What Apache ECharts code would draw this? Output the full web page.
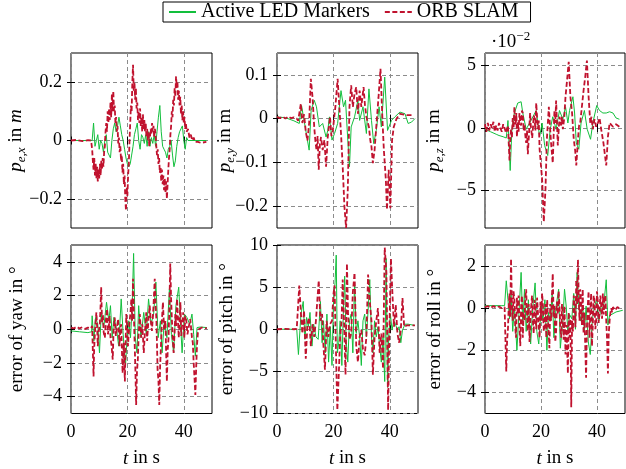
<!DOCTYPE html>
<html><head><meta charset="utf-8">
<script src="https://cdn.jsdelivr.net/npm/echarts@6/dist/echarts.min.js"></script>
<style>html,body{margin:0;padding:0;background:#fff}#c{width:626px;height:469px}</style>
</head><body><div id="c"></div>
<script>
// ---------------- data ----------------
const seriesNames = ['Active LED Markers', 'ORB SLAM'];
const timeRange = [0, 50];
const xTicks = [0, 20, 40];

// p_e,x in m
const pexLED = [[0,0],[7.5,0],[8,0.06],[8.5,-0.02],[9,0.0],[9.5,0.02],[10,-0.03],[10.5,0.0],[11,-0.01],[11.5,-0.04],[12,0.0],[12.5,0.02],[13,-0.04],[13.5,-0.05],[14,-0.06],[14.5,0.0],[15,0.04],[15.5,0.06],[16,0.03],[16.5,0.05],[17,0.08],[17.5,0.05],[18,0.02],[18.5,0.0],[19,-0.03],[19.5,-0.06],[20,-0.08],[20.5,-0.09],[21,-0.08],[21.5,-0.05],[22,-0.02],[22.5,0.02],[23,0.04],[23.5,0.06],[24,0.0],[24.5,-0.03],[25,0.02],[25.5,0.01],[26,-0.01],[26.5,0.02],[27,-0.02],[27.5,0.03],[28,-0.02],[28.5,0.01],[29,-0.01],[29.5,0.02],[30,-0.02],[30.5,0.03],[31,0.08],[31.5,0.12],[32,0.03],[32.5,-0.02],[33,-0.03],[33.5,-0.04],[34,-0.06],[34.5,-0.03],[35,-0.02],[35.5,0.0],[36,-0.05],[36.5,-0.09],[37,-0.07],[37.5,-0.02],[38,0.01],[38.5,0.03],[39,0.04],[39.5,0.05],[40,0.0],[40.5,-0.03],[41,0.01],[41.5,0.0],[42,0.002],[44,0],[48,0]];
const pexORB = [[0,0],[2,0.002],[4,-0.002],[6,0.001],[7,0],[7.25,-0.01],[7.5,-0.03],[7.75,-0.07],[8,-0.1],[8.25,-0.06],[8.5,-0.12],[8.75,-0.08],[9,-0.13],[9.25,-0.09],[9.5,-0.14],[9.75,-0.1],[10,-0.13],[10.25,-0.08],[10.5,-0.12],[10.75,-0.07],[11,-0.1],[11.25,-0.06],[11.5,-0.09],[11.75,-0.04],[12,-0.02],[12.25,0.03],[12.5,0.06],[12.75,0.03],[13,0.1],[13.25,0.06],[13.5,0.11],[13.75,0.07],[14,0.13],[14.25,0.08],[14.5,0.16],[14.75,0.1],[15,0.17],[15.25,0.1],[15.5,0.12],[15.75,0.06],[16,0.08],[16.25,0.03],[16.5,0.05],[16.75,-0.01],[17,0.01],[17.25,-0.04],[17.5,-0.02],[17.75,-0.07],[18,-0.05],[18.25,-0.11],[18.5,-0.08],[18.75,-0.15],[19,-0.12],[19.25,-0.2],[19.5,-0.24],[19.75,-0.16],[20,-0.19],[20.25,-0.12],[20.5,-0.08],[20.75,0.0],[21,0.06],[21.25,0.12],[21.5,0.1],[21.75,0.2],[22,0.26],[22.25,0.17],[22.5,0.2],[22.75,0.14],[23,0.18],[23.25,0.11],[23.5,0.13],[23.75,0.07],[24,0.1],[24.25,0.06],[24.5,0.11],[24.75,0.05],[25,0.08],[25.25,0.03],[25.5,0.09],[25.75,0.04],[26,0.07],[26.25,0.03],[26.5,0.06],[26.75,0.01],[27,0.04],[27.25,0.0],[27.5,0.03],[27.75,-0.02],[28,0.01],[28.25,0.04],[28.5,0.02],[28.75,0.06],[29,0.03],[29.25,0.05],[29.5,0.01],[29.75,0.04],[30,0.02],[30.25,-0.02],[30.5,-0.05],[30.75,-0.03],[31,-0.08],[31.25,-0.06],[31.5,-0.11],[31.75,-0.09],[32,-0.14],[32.25,-0.1],[32.5,-0.15],[32.75,-0.12],[33,-0.17],[33.25,-0.13],[33.5,-0.18],[33.75,-0.14],[34,-0.2],[34.25,-0.15],[34.5,-0.1],[34.75,-0.06],[35,-0.03],[35.25,0.02],[35.5,0.05],[35.75,0.1],[36,0.08],[36.25,0.14],[36.5,0.12],[36.75,0.18],[37,0.15],[37.25,0.22],[37.5,0.18],[37.75,0.2],[38,0.14],[38.25,0.17],[38.5,0.12],[38.75,0.15],[39,0.09],[39.25,0.12],[39.5,0.07],[39.75,0.1],[40,0.06],[40.25,0.08],[40.5,0.04],[40.75,0.06],[41,0.03],[41.5,0.04],[42,0.01],[42.5,0.02],[43,0.0],[43.5,0.01],[44,-0.005],[45,-0.005],[46,-0.008],[48,-0.005]];
const pexTicks = [-0.2, 0, 0.2];
const pexRange = [-0.3, 0.3];

// p_e,y in m
const peyLED = [[0,0.004],[3,0.002],[6,-0.005],[7.9,-0.011],[8.7,0.03],[9.6,-0.004],[10.6,-0.042],[11.4,-0.072],[12.1,0.019],[13.2,0.042],[14.0,0.027],[15.0,-0.019],[16.2,-0.011],[17.4,-0.042],[18.0,-0.027],[18.6,0.004],[19.5,-0.049],[20.4,-0.034],[21.5,-0.011],[22.7,0.064],[23.6,0.027],[24.3,0.042],[25.1,-0.049],[25.7,-0.11],[26.3,-0.019],[27.5,0.004],[28.7,0.042],[29.3,-0.004],[30.5,0.027],[31.7,-0.034],[32.6,0.068],[33.5,-0.004],[34.3,-0.057],[35.2,-0.027],[36.2,0.027],[37.0,-0.019],[38.2,0.095],[39.2,-0.027],[40.6,-0.004],[41.8,0.004],[43.6,0.015],[45.4,0.011],[46.5,-0.011],[47.7,-0.008],[48.9,0]];
const peyORB = [[0,0.004],[1,0.001],[2,0.005],[3,0.0],[4,0.005],[5,0.001],[6,0.003],[7,0.0],[7.5,-0.005],[8.45,0.034],[9.0,-0.01],[9.6,0.01],[10.2,-0.03],[10.8,-0.05],[11.4,-0.01],[12.0,0.091],[12.6,0.049],[13.2,-0.019],[13.6,-0.05],[14.0,-0.072],[14.4,-0.04],[14.8,-0.117],[15.2,-0.06],[15.6,-0.042],[16.2,-0.072],[16.8,-0.049],[17.4,-0.11],[18.0,-0.042],[18.8,0.004],[19.3,-0.04],[19.8,-0.027],[20.7,0.027],[21.5,0.091],[22.1,0.027],[22.7,-0.034],[23.3,-0.11],[23.9,-0.2],[24.5,-0.25],[25.1,-0.163],[25.7,0.027],[26.3,0.076],[26.9,0.027],[27.5,0.057],[28.1,0.072],[28.7,0.011],[29.3,0.064],[29.9,0.027],[30.7,0.072],[31.2,0.03],[31.7,0.004],[32.6,-0.019],[33.1,-0.05],[33.5,-0.064],[34.0,-0.102],[34.6,-0.072],[35.2,-0.019],[36.0,0.049],[36.7,0.114],[37.4,-0.004],[37.9,-0.072],[38.6,-0.14],[39.0,-0.208],[39.6,-0.117],[40.2,-0.205],[40.8,-0.049],[41.4,-0.019],[42.4,0],[43.6,0.011],[46.0,0.008],[47.7,0.008]];
const peyTicks = [-0.2, -0.1, 0, 0.1];
const peyRange = [-0.25, 0.15];

// p_e,z in 1e-2 m
const pezLED = [[0,-0.1],[2,-0.3],[4,-0.5],[5,-0.6],[6.5,-0.7],[7.6,-0.8],[8.2,0.6],[9.0,-3.4],[9.6,-0.1],[10.5,1.2],[11.7,2.0],[12.9,2.1],[13.5,1.2],[14.7,-0.1],[15.9,0.4],[17.1,0.9],[18.3,1.4],[19.5,-0.7],[20.4,0.4],[21.3,-1.4],[22.4,-2.2],[23.3,-0.1],[24.2,0.9],[25.4,-0.1],[26.6,1.4],[27.8,0.7],[28.75,1.7],[29.6,0.4],[30.2,1.4],[31.4,2.5],[32.0,1.2],[32.6,-1.2],[33.5,-1.7],[34.3,0.4],[35.5,1.4],[36.5,-0.1],[37.7,-0.9],[38.5,0.4],[39.9,1.8],[40.9,1.4],[42.1,1.2],[43.3,1.2],[44.5,1.3],[45.7,1.2],[46.8,0.8],[48.0,0.7]];
const pezORB = [[0,0.3],[0.5,-0.3],[1,0.4],[1.5,-0.2],[2,0.3],[2.5,0.0],[3,0.5],[3.5,-0.3],[4,0.2],[4.5,-0.2],[5,0.4],[5.5,0.0],[6,-0.3],[6.5,0.3],[7,0.0],[7.5,-0.4],[8.2,0.2],[8.75,-2.6],[9.0,-1.0],[9.3,-0.1],[9.6,-0.8],[9.9,0.8],[10.2,0.0],[10.5,1.7],[10.75,0.3],[11.0,0.5],[11.2,1.2],[11.4,-0.7],[11.7,0.5],[12.0,-0.3],[12.3,1.2],[12.6,0.4],[12.9,0.2],[13.2,1.4],[13.5,1.2],[13.8,-0.2],[14.1,0.3],[14.4,-0.6],[14.7,-1.2],[15.0,-0.2],[15.3,-2.1],[15.7,-0.5],[16.1,1.2],[16.35,0.2],[16.6,0.3],[16.85,-0.8],[17.1,-0.1],[17.4,1.0],[17.7,0.8],[18.0,-0.2],[18.3,2.0],[18.6,0.8],[18.9,-0.1],[19.2,0.6],[19.5,-1.7],[20.4,-4.1],[21.0,-7.5],[21.6,-4.9],[22.1,-0.9],[22.8,1.7],[23.2,0.2],[23.6,-1.2],[24.2,-2.8],[24.8,1.4],[25.1,0.4],[25.4,2.2],[26.0,-1.4],[26.6,0.9],[27.2,0.2],[27.5,0.9],[27.8,-0.1],[28.3,0.8],[28.75,2.5],[29.3,3.8],[29.9,5.3],[30.5,2.5],[31.1,1.2],[31.7,-0.9],[32.2,-1.8],[32.6,-3.0],[33.2,-0.9],[33.6,0.2],[34.0,0.4],[34.6,1.7],[35.2,3.0],[35.8,4.1],[36.4,5.4],[37.0,2.5],[37.6,0.4],[38.0,0.9],[38.5,-0.1],[39.1,0.7],[39.7,0.1],[40.3,0.4],[40.9,0.8],[41.5,-0.1],[42.3,-1.2],[43.3,-3.0],[43.9,-0.7],[44.5,0.4],[45.7,0.1],[46.8,0.3],[48.6,0]];
const pezTicks = [-5, 0, 5];
const pezRange = [-8, 6];

// error of yaw in deg
const yawLED = [[0,-0.1],[3,-0.15],[6,-0.2],[7.3,-0.15],[7.5,0.8],[8.1,-0.7],[8.7,0.7],[9.5,0.3],[10.1,-1.4],[10.7,0.9],[11.6,0.1],[12.6,1.6],[13.4,0.5],[14.0,1.4],[14.6,-0.5],[15.2,0.7],[16.1,0.1],[16.9,-1.0],[17.8,1.8],[18.5,-0.3],[19.3,-2.2],[19.9,-0.5],[20.5,0.5],[21.1,-0.5],[21.7,1.4],[22.2,4.5],[22.8,-0.5],[23.4,-1.4],[24.0,1.4],[24.8,-0.5],[25.8,1.0],[26.7,-0.3],[27.5,1.8],[28.4,0.3],[29.3,0.9],[30.1,2.8],[30.9,-0.5],[31.7,0.5],[32.3,-1.4],[33.1,0.5],[34.0,-0.5],[34.9,2.4],[35.6,-0.3],[36.4,-1.4],[37.2,1.4],[38.2,2.5],[38.8,0.5],[39.4,-1.4],[40.2,0.9],[41.1,0.7],[42.1,0.3],[42.9,0.9],[43.5,-0.3],[44.1,-1.6],[44.7,0.1],[45.8,0.13],[48.2,0.1]];
const yawORB = [[0,0.1],[1,0.05],[2,0.15],[3,0.05],[4,0.12],[5,0.02],[6,0.1],[7,0.05],[7.5,0.2],[8.0,-2.8],[8.2,-1.2],[8.4,-0.5],[8.7,0.4],[9.0,1.0],[9.25,0.2],[9.5,-1.0],[9.8,-0.2],[10.2,0.3],[10.45,1.2],[10.7,2.5],[11.0,0.4],[11.3,0.9],[11.6,-0.2],[12.0,-0.5],[12.4,0.6],[12.8,1.2],[13.1,-0.3],[13.4,0.1],[13.7,0.8],[14.0,-0.5],[14.4,-1.0],[14.8,-1.8],[15.1,0.0],[15.5,0.7],[15.9,-0.4],[16.3,-0.3],[16.7,0.6],[17.2,-1.0],[17.5,0.0],[17.8,0.3],[18.05,-1.2],[18.3,-2.6],[18.7,-0.8],[19.1,-3.1],[19.35,-1.0],[19.6,0.9],[19.9,0.2],[20.2,-1.0],[20.5,-0.2],[20.8,0.5],[21.1,1.0],[21.4,1.8],[21.7,0.5],[22.0,3.0],[22.3,0.8],[22.6,-1.0],[22.85,-2.5],[23.1,-4.5],[23.4,-2.5],[23.7,-1.8],[24.0,-0.3],[24.4,0.9],[24.65,0.2],[24.9,-0.5],[25.3,0.3],[25.8,-1.4],[26.1,-0.5],[26.4,0.3],[26.7,1.0],[27.0,-0.7],[27.4,0.4],[27.9,1.4],[28.3,0.5],[28.7,-0.1],[29.2,1.2],[29.7,3.0],[30.0,1.5],[30.3,0.5],[30.7,-2.4],[31.0,-3.0],[31.3,-4.5],[31.6,-2.2],[31.9,-1.0],[32.2,0.4],[32.6,1.6],[33.0,0.0],[33.5,0.5],[33.75,-1.5],[34.0,-3.1],[34.3,-1.2],[34.6,-0.5],[34.9,1.5],[35.2,3.9],[35.5,1.8],[35.8,0.5],[36.1,-0.6],[36.4,-1.4],[36.7,-0.3],[37.0,0.9],[37.3,0.2],[37.6,1.8],[37.9,0.8],[38.2,-0.5],[38.5,0.4],[38.8,1.6],[39.1,-0.4],[39.4,0.3],[39.8,1.0],[40.2,-0.5],[40.5,0.8],[40.9,0.5],[41.3,-0.3],[41.7,0.1],[42.3,0.6],[42.9,-0.5],[43.2,-0.8],[43.5,-2.0],[43.8,-2.9],[44.1,-3.9],[44.4,-2.2],[44.7,-0.9],[45.0,-0.2],[45.3,0],[46.4,0.1],[48.2,0.05]];
const yawTicks = [-4, -2, 0, 2, 4];
const yawRange = [-5, 5];

// error of pitch in deg
const pitchLED = [[0,0],[7,0],[7.6,-3.0],[8.5,1.8],[9.3,3.3],[9.9,-1.2],[10.5,1.4],[11.1,0.3],[11.7,2.0],[12.4,-2.0],[13.0,0.6],[13.8,-0.9],[14.6,-1.2],[15.4,3.3],[16.0,-1.6],[16.5,1.0],[17.1,-2.8],[17.7,1.8],[18.3,-3.9],[18.9,0.3],[19.5,-4.3],[20.0,2.9],[20.6,5.6],[21.0,8.8],[21.4,-2.8],[21.9,-1.6],[22.4,1.0],[23.0,-4.3],[23.6,2.9],[24.0,6.3],[24.5,-1.2],[25.1,-3.9],[25.7,1.0],[26.3,1.8],[26.9,-2.8],[27.5,5.6],[28.1,-0.5],[28.7,1.0],[29.3,-0.9],[29.9,-4.3],[30.5,1.0],[31.1,1.8],[31.7,-0.9],[32.3,2.2],[32.9,5.9],[33.5,-0.9],[34.0,-2.8],[34.6,1.0],[35.2,-0.9],[35.8,0.3],[36.4,-2.0],[37.0,-3.9],[37.6,-0.9],[38.2,-6.2],[38.7,8.4],[39.2,-6.9],[39.6,-0.9],[40.2,1.8],[40.8,-0.1],[41.4,1.0],[42.0,0.6],[42.7,-0.1],[43.3,0.3],[43.9,-1.6],[44.5,-0.1],[45.4,0.6],[46.5,0.6],[48.9,0.45]];
const pitchORB = [[0,0],[3,0.05],[6,0],[7,0.05],[7.9,5.2],[8.5,1.8],[9.0,-0.5],[9.6,2.2],[10.2,-3.5],[10.8,0.6],[11.4,1.4],[12.0,-2.0],[12.6,0.6],[13.2,-0.9],[13.8,1.0],[14.8,5.8],[15.4,1.0],[16.0,1.8],[16.4,-1.6],[17.0,-4.8],[17.6,1.0],[18.2,-0.9],[18.8,0.6],[19.5,1.0],[20.0,4.1],[20.4,5.2],[21.0,-3.9],[21.4,-9.6],[21.9,-5.4],[22.4,-0.9],[22.9,1.0],[23.3,5.9],[23.9,-0.5],[24.3,-5.4],[24.8,7.8],[25.2,1.8],[25.7,-1.2],[26.3,-0.5],[26.9,4.4],[27.5,6.7],[28.1,-2.0],[28.7,-3.9],[29.3,-0.9],[29.9,-0.1],[30.5,-2.4],[31.1,-3.1],[31.7,-0.9],[32.3,6.5],[32.9,3.3],[33.5,1.0],[34.0,-5.4],[34.6,-0.9],[35.2,1.0],[35.8,2.5],[36.4,-2.8],[37.0,-0.5],[37.6,-4.7],[38.2,9.7],[38.6,9.9],[38.8,6.7],[39.4,-9.6],[39.8,-0.9],[40.4,8.4],[41.0,3.7],[41.5,0.3],[42.1,2.9],[42.7,-0.5],[43.3,-1.6],[43.9,-0.1],[44.5,3.7],[45.1,0.3],[46.0,0.45],[47.1,0.45],[48.9,0.45]];
const pitchTicks = [-10, -5, 0, 5, 10];
const pitchRange = [-10, 10];

// error of roll in deg
const rollLED = [[0,0.12],[3,0.12],[6,0.12],[7,0.12],[7.6,1.3],[8.2,0.4],[8.75,-0.5],[9.3,0.7],[9.9,-1.1],[10.5,0.1],[11.4,-2.0],[12.1,-0.3],[12.9,1.7],[13.5,-0.8],[14.1,0.9],[14.7,-1.1],[15.5,0.4],[16.3,-1.7],[17.1,0.1],[17.9,1.2],[18.5,-1.1],[19.2,-1.7],[20.1,0.1],[20.7,-0.6],[21.4,0.4],[22.1,-2.0],[22.7,-0.2],[23.3,-0.6],[24.0,0.7],[24.6,-1.4],[25.4,0.1],[26.3,0.9],[26.9,-1.9],[27.8,-0.6],[28.4,0.9],[29.0,0.1],[29.6,-1.1],[30.2,-0.3],[31.0,-0.5],[31.7,0.7],[32.3,-1.0],[32.9,1.7],[33.5,0.1],[34.1,-0.6],[34.9,0.1],[35.5,-1.1],[36.1,0.1],[36.9,-1.6],[37.6,-2.2],[38.3,-0.6],[39.1,0.1],[39.9,0.4],[40.7,-0.6],[41.5,0.1],[42.3,0],[43.3,1.35],[43.9,-0.8],[44.5,-0.35],[45.7,-0.26],[46.8,-0.18],[49.2,-0.1]];
const rollORB = [[0,0.05],[1,0.1],[2,0.0],[3,0.1],[4,0.02],[5,0.08],[6,0.0],[7,0.05],[7.6,-3.0],[7.9,-1.5],[8.2,-1.0],[8.5,0.2],[8.75,0.7],[9.0,-0.4],[9.3,2.35],[9.6,0.3],[9.9,-0.6],[10.2,0.8],[10.5,0.4],[10.8,-0.9],[11.1,-1.4],[11.4,0.5],[11.7,-0.3],[12.0,0.6],[12.3,-0.8],[12.6,-1.8],[12.9,0.1],[13.2,0.6],[13.5,-1.4],[13.8,-0.2],[14.1,-0.6],[14.4,0.5],[14.7,0.9],[15.0,-0.3],[15.3,-1.1],[15.6,0.2],[15.9,-1.6],[16.2,-0.7],[16.5,0.1],[16.8,0.6],[17.1,-0.6],[17.4,-1.2],[17.7,0.4],[18.0,-0.3],[18.3,-1.0],[18.6,0.5],[18.9,-0.2],[19.2,-0.9],[19.5,-1.4],[19.8,0.3],[20.1,-0.6],[20.4,0.7],[20.7,0.1],[21.0,-1.1],[21.3,-0.8],[21.6,0.2],[21.9,-1.4],[22.2,0.4],[22.4,-0.3],[22.7,-1.0],[23.0,-1.9],[23.3,0.2],[23.6,-0.6],[23.9,0.5],[24.2,1.65],[24.5,-0.4],[24.8,0.1],[25.1,-1.6],[25.4,-1.1],[25.7,0.3],[26.0,-0.3],[26.3,0.8],[26.6,0.1],[26.9,-0.9],[27.2,-1.4],[27.5,0.2],[27.8,-0.6],[28.1,-1.5],[28.4,0.1],[28.75,-2.2],[29.1,-0.8],[29.6,-3.1],[29.9,-0.2],[30.2,-1.4],[30.5,-0.5],[30.8,-4.7],[31.1,-0.6],[31.4,-1.1],[31.7,0.6],[32.0,0.1],[32.3,-0.9],[32.6,1.35],[32.9,0.2],[33.2,2.3],[33.5,0.4],[33.75,-0.6],[34.0,0.9],[34.3,0.4],[34.6,-0.8],[34.9,0.9],[35.2,-1.2],[35.5,-0.2],[35.8,-1.8],[36.1,-3.3],[36.4,-0.9],[36.7,0.1],[37.0,0.8],[37.3,-1.4],[37.6,-0.3],[37.9,0.7],[38.2,-1.8],[38.5,-0.8],[38.8,0.6],[39.1,0.4],[39.4,-1.0],[39.7,-0.6],[40.0,0.8],[40.3,0.3],[40.6,-0.7],[40.9,-0.2],[41.2,0.6],[41.5,0.1],[41.8,-0.5],[42.1,0.7],[42.4,-0.3],[42.7,0.4],[43.0,0.6],[43.3,-0.6],[43.6,-1.5],[43.9,-3.1],[44.2,-1.2],[44.5,-0.6],[44.8,-0.2],[45.1,0],[45.4,-0.2],[45.7,0.05],[46.5,-0.1],[47.2,0.05],[48.0,0.0]];
const rollTicks = [-4, -2, 0, 2];
const rollRange = [-5, 3];

// ---------------- chart ----------------
const FONT = 'Liberation Serif';
const GREEN = '#12bf3c';
const RED = '#c0122e';
const GRID_COLOR = '#8c8c8c';

const panels = [
  {led: pexLED, orb: pexORB, ticks: pexTicks, range: pexRange, name: '{i|p}{s|e}{sr|,}{s|x}{t| in }{i|m}', gap: 43, box: {left: 71, top: 53, width: 141, height: 175}, bottom: false},
  {led: peyLED, orb: peyORB, ticks: peyTicks, range: peyRange, name: '{i|p}{s|e}{sr|,}{s|y}{t| in m}', gap: 40, box: {left: 277, top: 53, width: 141, height: 175}, bottom: false},
  {led: pezLED, orb: pezORB, ticks: pezTicks, range: pezRange, name: '{i|p}{s|e}{sr|,}{s|z}{t| in m}', gap: 39, box: {left: 485, top: 53, width: 140, height: 175}, bottom: false},
  {led: yawLED, orb: yawORB, ticks: yawTicks, range: yawRange, name: '{t|error of yaw in °}', gap: 42, box: {left: 71, top: 245, width: 141, height: 174}, bottom: true},
  {led: pitchLED, orb: pitchORB, ticks: pitchTicks, range: pitchRange, name: '{t|error of pitch in °}', gap: 38, box: {left: 277, top: 245, width: 141, height: 174}, bottom: true},
  {led: rollLED, orb: rollORB, ticks: rollTicks, range: rollRange, name: '{t|error of roll in °}', gap: 38, box: {left: 485, top: 245, width: 140, height: 174}, bottom: true}
];

const fmt = v => String(v).replace('-', '\u2212');
const richName = {
  t: {fontFamily: FONT, fontSize: 19, color: '#000', lineHeight: 24},
  i: {fontFamily: FONT, fontSize: 19, fontStyle: 'italic', color: '#000', lineHeight: 24},
  s: {fontFamily: FONT, fontSize: 13, fontStyle: 'italic', color: '#000', lineHeight: 13, verticalAlign: 'bottom'},
  sr: {fontFamily: FONT, fontSize: 13, color: '#000', lineHeight: 13, verticalAlign: 'bottom'}
};

const grid = [], xAxis = [], yAxis = [], series = [];
panels.forEach((p, k) => {
  grid.push(Object.assign({show: true, borderColor: '#000', borderWidth: 1, backgroundColor: 'transparent'}, p.box));
  const tickStyle = {show: true, inside: true, length: 4, lineStyle: {color: '#000', width: 1}};
  xAxis.push({
    type: 'value', gridIndex: k, min: timeRange[0], max: timeRange[1], position: 'bottom',
    axisLine: {show: false},
    axisTick: Object.assign({customValues: xTicks}, tickStyle),
    axisLabel: {show: p.bottom, customValues: xTicks, formatter: fmt, fontFamily: FONT, fontSize: 18, color: '#000', margin: 10},
    splitLine: {show: true, lineStyle: {color: GRID_COLOR, type: [4, 3], width: 1}},
    name: p.bottom ? '{i|t}{t| in s}' : '', nameLocation: 'middle', nameGap: 33, nameMoveOverlap: false,
    nameTextStyle: {rich: richName}
  });
  xAxis.push({
    type: 'value', gridIndex: k, min: timeRange[0], max: timeRange[1], position: 'top',
    axisLine: {show: false}, axisLabel: {show: false}, splitLine: {show: false},
    axisTick: Object.assign({customValues: xTicks}, tickStyle)
  });
  yAxis.push({
    type: 'value', gridIndex: k, min: p.range[0], max: p.range[1], position: 'left',
    axisLine: {show: false},
    axisTick: Object.assign({customValues: p.ticks}, tickStyle),
    axisLabel: {customValues: p.ticks, formatter: fmt, fontFamily: FONT, fontSize: 18, color: '#000', margin: 9},
    splitLine: {show: true, lineStyle: {color: GRID_COLOR, type: [4, 3], width: 1}},
    name: p.name, nameLocation: 'middle', nameRotate: 90, nameGap: p.gap, nameMoveOverlap: false,
    nameTextStyle: {rich: richName}
  });
  yAxis.push({
    type: 'value', gridIndex: k, min: p.range[0], max: p.range[1], position: 'right',
    axisLine: {show: false}, axisLabel: {show: false}, splitLine: {show: false},
    axisTick: Object.assign({customValues: p.ticks}, tickStyle)
  });
  series.push({
    type: 'line', name: seriesNames[0], xAxisIndex: 2 * k, yAxisIndex: 2 * k, data: p.led,
    symbol: 'none', showSymbol: false, clip: true, z: 2,
    lineStyle: {color: GREEN, width: 1}, itemStyle: {color: GREEN}
  });
  series.push({
    type: 'line', name: seriesNames[1], xAxisIndex: 2 * k, yAxisIndex: 2 * k, data: p.orb,
    symbol: 'none', showSymbol: false, clip: true, z: 3,
    lineStyle: {color: RED, width: 1.8, type: [5, 2.5]}, itemStyle: {color: RED}
  });
});

const chart = echarts.init(document.getElementById('c'), null, {renderer: 'canvas', width: 626, height: 469});
chart.setOption({
  animation: false,
  backgroundColor: '#fff',
  grid, xAxis, yAxis, series,
  legend: {
    data: seriesNames, left: 163, top: 2,
    itemWidth: 27, itemHeight: 12, itemGap: 14,
    itemStyle: {opacity: 0},
    borderColor: '#000', borderWidth: 1, padding: [0, 12, 0, 5],
    textStyle: {fontFamily: FONT, fontSize: 20, color: '#000'}
  },
  graphic: [{
    type: 'text', left: 491, top: 30,
    style: {
      text: '{m|\u00b710}{p|\u22122}',
      rich: {
        m: {fontFamily: FONT, fontSize: 19, fill: '#000', lineHeight: 22, verticalAlign: 'bottom'},
        p: {fontFamily: FONT, fontSize: 13, fill: '#000', lineHeight: 13, verticalAlign: 'top'}
      }
    }
  }]
});
</script>
</body></html>
